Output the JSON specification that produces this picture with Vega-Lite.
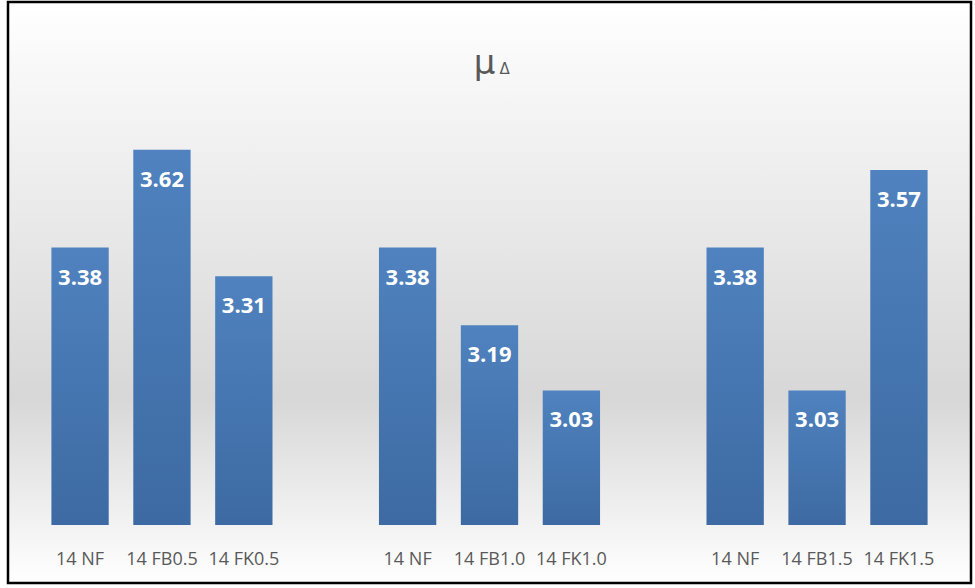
{
  "$schema": "https://vega.github.io/schema/vega-lite/v6.json",
  "width": 963,
  "height": 581,
  "padding": {"left": 8, "top": 2, "right": 4, "bottom": 5},
  "autosize": {"type": "none"},
  "background": "#ffffff",
  "config": {"view": {"stroke": null}, "font": "Open Sans"},
  "datasets": {
    "bars": [
      {"slot": "s1", "label": "14 NF", "value": 3.38},
      {"slot": "s2", "label": "14 FB0.5", "value": 3.62},
      {"slot": "s3", "label": "14 FK0.5", "value": 3.31},
      {"slot": "s5", "label": "14 NF", "value": 3.38},
      {"slot": "s6", "label": "14 FB1.0", "value": 3.19},
      {"slot": "s7", "label": "14 FK1.0", "value": 3.03},
      {"slot": "s9", "label": "14 NF", "value": 3.38},
      {"slot": "s10", "label": "14 FB1.5", "value": 3.03},
      {"slot": "s11", "label": "14 FK1.5", "value": 3.57}
    ],
    "one": [{"t": "μ", "s": "Δ"}]
  },
  "data": {"name": "bars"},
  "encoding": {
    "x": {
      "field": "slot", "type": "nominal",
      "scale": {"domain": ["s1","s2","s3","s4","s5","s6","s7","s8","s9","s10","s11"], "paddingInner": 0.3, "paddingOuter": 0.53},
      "axis": null
    }
  },
  "layer": [
    {
      "data": {"name": "one"},
      "mark": {
        "type": "rect",
        "color": {"gradient": "linear", "x1": 0, "y1": 0, "x2": 0, "y2": 1,
          "stops": [
            {"offset": 0, "color": "#ffffff"},
            {"offset": 0.68, "color": "#d7d7d7"},
            {"offset": 1, "color": "#ffffff"}
          ]}
      },
      "encoding": {"x": null}
    },
    {
      "mark": {
        "type": "bar",
        "color": {"gradient": "linear", "x1": 0, "y1": 0, "x2": 0, "y2": 1,
          "stops": [
            {"offset": 0, "color": "#4f82bf"},
            {"offset": 1, "color": "#3d6aa2"}
          ]}
      },
      "encoding": {
        "y": {"field": "value", "type": "quantitative", "scale": {"domain": [2.558, 3.982], "nice": false, "zero": false}, "axis": null},
        "y2": {"datum": 2.7}
      }
    },
    {
      "mark": {"type": "text", "color": "#ffffff", "fontWeight": "bold", "fontSize": 22, "baseline": "middle", "dy": 30},
      "encoding": {
        "y": {"field": "value", "type": "quantitative"},
        "text": {"field": "value", "type": "quantitative", "format": ".2f"}
      }
    },
    {
      "mark": {"type": "text", "color": "#595959", "fontSize": 18, "baseline": "middle"},
      "encoding": {
        "y": {"datum": 2.615, "type": "quantitative"},
        "text": {"field": "label"}
      }
    },
    {
      "data": {"name": "one"},
      "mark": {"type": "text", "color": "#595959", "fontSize": 34, "font": "DejaVu Sans", "baseline": "alphabetic", "dx": -5},
      "encoding": {
        "x": null,
        "y": {"datum": 3.805, "type": "quantitative"},
        "text": {"field": "t"}
      }
    },
    {
      "data": {"name": "one"},
      "mark": {"type": "text", "color": "#595959", "fontSize": 15, "font": "DejaVu Sans", "baseline": "alphabetic", "dx": 15},
      "encoding": {
        "x": null,
        "y": {"datum": 3.805, "type": "quantitative"},
        "text": {"field": "s"}
      }
    },
    {
      "data": {"name": "one"},
      "mark": {"type": "rect", "filled": false, "stroke": "#000000", "strokeWidth": 2.5},
      "encoding": {"x": null}
    }
  ]
}
